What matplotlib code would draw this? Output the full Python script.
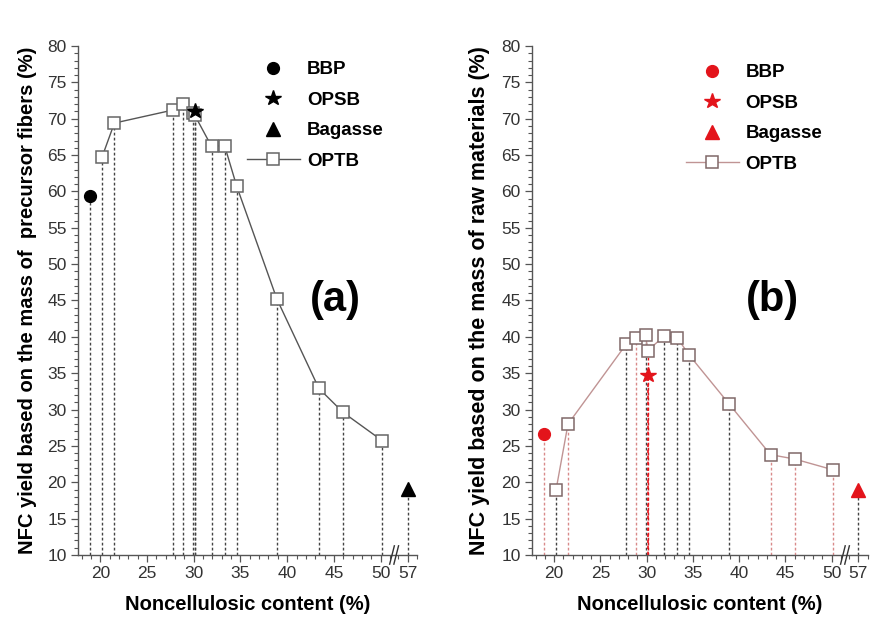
import numpy as np
import matplotlib
matplotlib.use("Agg")
import matplotlib.pyplot as plt
from matplotlib.ticker import FixedLocator, FixedFormatter

plt.rcParams['font.family'] = ['Liberation Sans', 'DejaVu Sans']

# ---------------- data ----------------
optb_x = [20.2, 21.5, 27.8, 28.8, 29.9, 30.1, 31.9, 33.3, 34.6, 38.9, 43.4, 46.0, 50.2]
optb_a = [64.8, 69.4, 71.2, 72.0, 70.8, 70.5, 66.2, 66.3, 60.7, 45.2, 32.9, 29.6, 25.7]
optb_b = [18.9, 28.0, 39.0, 39.9, 40.3, 38.1, 40.1, 39.9, 37.5, 30.8, 23.8, 23.2, 21.7]

bbp_x, bbp_a, bbp_b = 18.9, 59.4, 26.6
opsb_x, opsb_a, opsb_b = 30.1, 71.0, 34.8
bag_x, bag_a, bag_b = 57.0, 19.1, 18.9

major_ticks = [20, 25, 30, 35, 40, 45, 50, 57]
major_labels = ['20', '25', '30', '35', '40', '45', '50', '57']
minor_ticks = list(range(18, 52)) + [56, 58]

ylab_a = 'NFC yield based on the mass of  precursor fibers (%)'
ylab_b = 'NFC yield based on the mass of raw materials (%)'
xlab = 'Noncellulosic content (%)'

# ---------------- broken x scale ----------------
def fwd(x):
    x = np.asarray(x, dtype=float)
    return np.where(x <= 51, x, np.where(x >= 56, x - 4.1, 51 + (x - 51) * 0.18))

def inv(y):
    y = np.asarray(y, dtype=float)
    return np.where(y <= 51, y, np.where(y >= 51.9, y + 4.1, 51 + (y - 51) / 0.18))

RED = '#e3141b'
DARK = '#444444'
PINK = '#d98a8a'
TICKC = '#333333'

fig = plt.figure(figsize=(8.72, 6.19), dpi=100)
axA = fig.add_axes([0.0894, 0.1034, 0.3888, 0.8223])
axB = fig.add_axes([0.610, 0.1034, 0.385, 0.8223])

def style_axis(ax):
    ax.set_xscale('function', functions=(fwd, inv))
    ax.set_xlim(17.6, 58.0)
    ax.set_ylim(10, 80)
    ax.xaxis.set_major_locator(FixedLocator(major_ticks))
    ax.xaxis.set_major_formatter(FixedFormatter(major_labels))
    ax.xaxis.set_minor_locator(FixedLocator(minor_ticks))
    ax.set_yticks(np.arange(10, 81, 5))
    ax.set_yticks(np.arange(10, 81, 1), minor=True)
    for s in ['top', 'right']:
        ax.spines[s].set_visible(False)
    for s in ['left', 'bottom']:
        ax.spines[s].set_color('#555555')
        ax.spines[s].set_linewidth(1.0)
    ax.tick_params(which='major', direction='out', length=5, width=0.9,
                   color='#555555', labelsize=12.5, pad=3, labelcolor=TICKC)
    ax.tick_params(which='minor', direction='out', length=3, width=0.8,
                   color='#555555')
    # axis break marks
    tr = ax.get_xaxis_transform()
    for dx in (-0.45, 0.45):
        xc = 51.45 + dx * 0.5
        ax.plot([inv(xc - 0.25), inv(xc + 0.25)], [-0.018, 0.018], color='#333333',
                lw=1.0, transform=tr, clip_on=False, zorder=6)
    ax.set_xlabel(xlab, fontsize=14.5, fontweight='bold', labelpad=10)

dash = (0, (2.0, 1.6))
legkw = dict(loc='upper left', frameon=False, borderpad=0, borderaxespad=0,
             handlelength=2.83, handletextpad=0.37, labelspacing=0.71,
             prop={'weight': 'bold', 'size': 13.5})

# ---------------- panel (a) ----------------
style_axis(axA)
for xv, yv in zip(optb_x, optb_a):
    axA.plot([xv, xv], [10, yv], color=DARK, lw=1.0, ls=dash, zorder=1)
for xv, yv in [(bbp_x, bbp_a), (opsb_x, opsb_a), (bag_x, bag_a)]:
    axA.plot([xv, xv], [10, yv], color=DARK, lw=1.0, ls=dash, zorder=1)
lA_optb, = axA.plot(optb_x, optb_a, color='#555555', lw=1.0, marker='s', ms=9,
                    mfc='white', mec='#666666', mew=1.1, zorder=3, label='OPTB')
lA_bbp, = axA.plot([bbp_x], [bbp_a], ls='none', marker='o', ms=8.5, color='black', zorder=4, label='BBP')
lA_opsb, = axA.plot([opsb_x], [opsb_a], ls='none', marker='*', ms=11.5, color='black', zorder=4, label='OPSB')
lA_bag, = axA.plot([bag_x], [bag_a], ls='none', marker='^', ms=9.5, color='black', zorder=4, label='Bagasse')
axA.set_ylabel(ylab_a, fontsize=14.5, fontweight='bold')
axA.yaxis.set_label_coords(-0.121, 0.5)
axA.legend(handles=[lA_bbp, lA_opsb, lA_bag, lA_optb], bbox_to_anchor=(0.4985, 0.970), **legkw)
axA.text(0.758, 0.50, '(a)', transform=axA.transAxes, fontsize=30,
         fontweight='bold', ha='center', va='center')

# ---------------- panel (b) ----------------
style_axis(axB)
optb_line_cols = [DARK, PINK, DARK, PINK, DARK, RED, DARK, DARK, DARK, DARK, PINK, PINK, PINK]
for xv, yv, c in zip(optb_x, optb_b, optb_line_cols):
    axB.plot([xv, xv], [10, yv], color=c, lw=1.0, ls=dash, zorder=1)
axB.plot([bbp_x, bbp_x], [10, bbp_b], color=PINK, lw=1.0, ls=dash, zorder=1)
axB.plot([opsb_x, opsb_x], [10, opsb_b], color=RED, lw=1.2, ls=dash, zorder=1)
axB.plot([bag_x, bag_x], [10, bag_b], color=DARK, lw=1.0, ls=dash, zorder=1)
lB_optb, = axB.plot(optb_x, optb_b, color='#c09494', lw=1.0, marker='s', ms=9,
                    mfc='white', mec='#806868', mew=1.1, zorder=3, label='OPTB')
lB_bbp, = axB.plot([bbp_x], [bbp_b], ls='none', marker='o', ms=8.5, color=RED, zorder=4, label='BBP')
lB_opsb, = axB.plot([opsb_x], [opsb_b], ls='none', marker='*', ms=11.5, color=RED, zorder=4, label='OPSB')
lB_bag, = axB.plot([bag_x], [bag_b], ls='none', marker='^', ms=9.5, color=RED, zorder=4, label='Bagasse')
axB.set_ylabel(ylab_b, fontsize=15.5, fontweight='bold')
axB.yaxis.set_label_coords(-0.125, 0.5)
axB.legend(handles=[lB_bbp, lB_opsb, lB_bag, lB_optb], bbox_to_anchor=(0.458, 0.964), **legkw)
axB.text(0.717, 0.50, '(b)', transform=axB.transAxes, fontsize=30,
         fontweight='bold', ha='center', va='center')

fig.savefig('out.png', dpi=100, facecolor='white')
